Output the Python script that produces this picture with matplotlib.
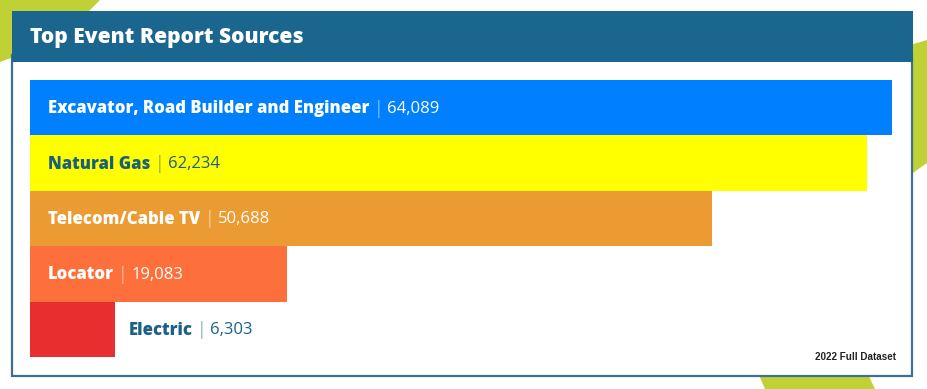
import matplotlib.pyplot as plt
from matplotlib.patches import Polygon, Rectangle

# data
sources = ['Excavator, Road Builder and Engineer', 'Natural Gas',
           'Telecom/Cable TV', 'Locator', 'Electric']
reports = [64089, 62234, 50688, 19083, 6303]
bar_colors = ['#0080ff', '#ffff00', '#ec9a32', '#fe703b', '#e92e2f']
label_colors = ['white', '#1b5f7e', 'white', 'white', '#1b6089']
title = 'Top Event Report Sources'
note = '2022 Full Dataset'

W, H = 927, 389
teal = '#1a668e'
green = '#bfd134'

fig = plt.figure(figsize=(W / 100, H / 100), dpi=100)

# background layer in pixel coords
bg = fig.add_axes([0, 0, 1, 1])
bg.set_xlim(0, W)
bg.set_ylim(H, 0)
bg.axis('off')

bg.add_patch(Polygon([(0, 0), (100, 0), (60, 40), (0, 62)], closed=True, color=green, lw=0))
bg.add_patch(Polygon([(900, 48), (927, 40), (927, 163), (900, 182)], closed=True, color=green, lw=0))
bg.add_patch(Polygon([(757, 370), (866, 370), (875, 389), (765, 389)], closed=True, color=green, lw=0))

bg.add_patch(Rectangle((12.5, 55), 900, 321, facecolor='white', edgecolor='#3d6f8f', lw=1.6))
bg.add_patch(Rectangle((12, 11), 901, 51, facecolor=teal, edgecolor='none'))
bg.text(30, 37, title, color='white', fontsize=15.1, fontweight='heavy',
        family='Open Sans', va='center', ha='left')
bg.text(896, 357, note, color='#222222', fontsize=7.1, fontweight='bold',
        family='Liberation Sans', va='center', ha='right')

# bars
ax = fig.add_axes([30 / W, (H - 357) / H, 862 / W, 277 / H])
ax.barh(range(len(sources)), reports, height=1.0, color=bar_colors)
ax.set_xlim(0, max(reports))
ax.set_ylim(len(sources) - 0.5, -0.5)
ax.axis('off')

for i, (name, val) in enumerate(zip(sources, reports)):
    inside = val > 10000
    if inside:
        x, dx = 0, 18
    else:
        x, dx = val, 14
    c = label_colors[i]
    t = ax.annotate(name, xy=(x, i), xytext=(dx, -1), textcoords='offset pixels',
                    va='center', ha='left', color=c, fontsize=11.95,
                    fontweight='heavy', family='Open Sans')
    s = ax.annotate('|', xy=(1, 0.5), xycoords=t, xytext=(4, 0),
                    textcoords='offset pixels', va='center', ha='left',
                    color=c, fontsize=13, fontweight='light', family='Open Sans', alpha=0.8)
    ax.annotate(f'{val:,}', xy=(1, 0.5), xycoords=s, xytext=(4, 0),
                textcoords='offset pixels', va='center', ha='left',
                color=c, fontsize=12, family='Open Sans')

fig.savefig('out.png', dpi=100)
